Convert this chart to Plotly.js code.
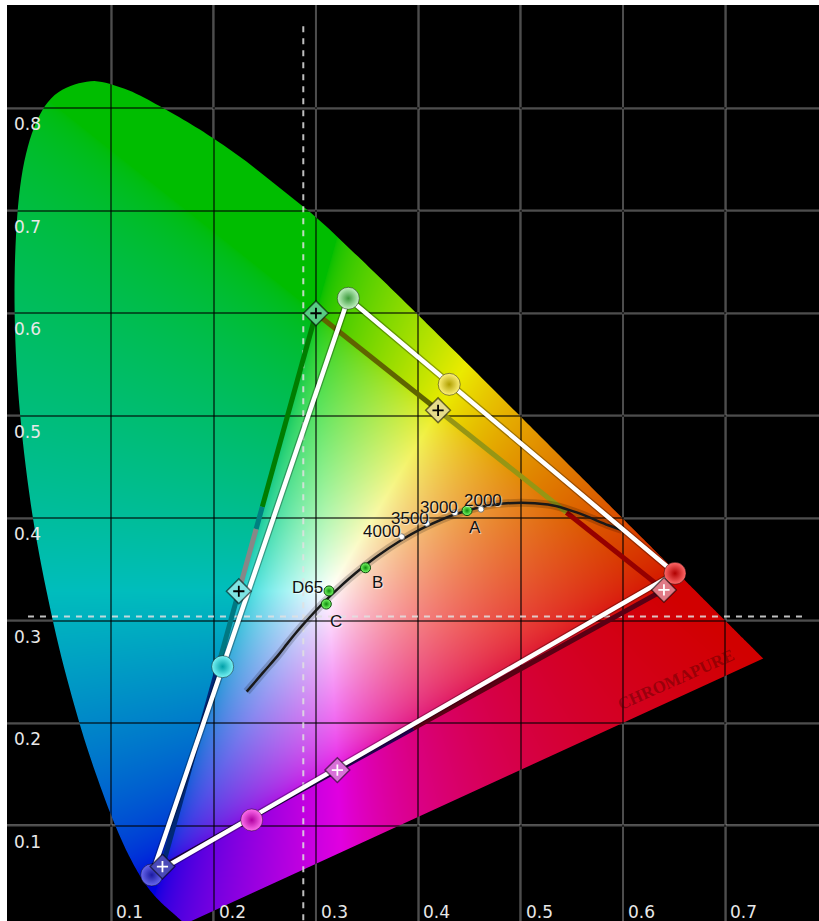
<!DOCTYPE html>
<html><head><meta charset="utf-8">
<script src="https://cdn.plot.ly/plotly-3.0.1.min.js"></script>
<style>html,body{margin:0;padding:0;background:#fff;overflow:hidden}#chart{width:819px;height:921px}</style>
</head><body><div id="chart"></div>
<script>
// ---------- data ----------
// CIE 1931 spectral locus, 380..700 nm (as drawn)
var locusX = [0.1741,0.1740,0.1738,0.1736,0.1733,0.1730,0.1726,0.1721,0.1714,0.1703,0.1689,0.1669,0.1644,0.1611,0.1566,0.1510,0.1440,0.1355,0.1241,0.1096,0.0913,0.0687,0.0440,0.0215,0.0080,0.0060,0.0150,0.0380,0.0760,0.1130,0.1510,0.1900,0.2280,0.2650,0.3016,0.3373,0.3731,0.4087,0.4441,0.4788,0.5125,0.5448,0.5752,0.6029,0.6270,0.6482,0.6658,0.6801,0.6915,0.7006,0.7079,0.7140,0.7190,0.7260,0.7300,0.7334,0.7370];
var locusY = [0.0050,0.0050,0.0049,0.0049,0.0048,0.0048,0.0048,0.0048,0.0051,0.0058,0.0069,0.0086,0.0109,0.0138,0.0177,0.0227,0.0297,0.0399,0.0578,0.0868,0.1327,0.2007,0.2950,0.4127,0.5384,0.6548,0.7480,0.8060,0.8260,0.8190,0.8000,0.7770,0.7510,0.7220,0.6923,0.6589,0.6245,0.5896,0.5547,0.5202,0.4866,0.4544,0.4242,0.3965,0.3725,0.3514,0.3340,0.3197,0.3083,0.2993,0.2920,0.2859,0.2809,0.2740,0.2700,0.2666,0.2630];
// Planckian locus (hot -> cool)
var planckX = [0.2323,0.2480,0.2637,0.2719,0.2807,0.2869,0.2952,0.3064,0.3135,0.3221,0.3325,0.3451,0.3608,0.3805,0.4053,0.4369,0.4770,0.5267,0.5546,0.5857,0.5990];
var planckY = [0.2307,0.2490,0.2671,0.2776,0.2884,0.2956,0.3048,0.3166,0.3237,0.3318,0.3411,0.3516,0.3636,0.3768,0.3907,0.4041,0.4137,0.4133,0.4056,0.3931,0.3885];
var cctLabels = ['4000','3500','3000','2000'];
var cctX = [0.3837,0.4082,0.4358,0.4612];
var cctY = [0.3819,0.3950,0.4053,0.4087];
var illumLabels = ['D65','C','B','A'];
var illumX = [0.3127,0.3101,0.3484,0.4476];
var illumY = [0.3290,0.3162,0.3516,0.4074];
var colorNames = ['Red','Yellow','Green','Cyan','Blue','Magenta'];
var targetX = [0.6400,0.4193,0.3000,0.2246,0.1500,0.3209];
var targetY = [0.3300,0.5053,0.6000,0.3287,0.0600,0.1542];
var measuredX = [0.6508,0.4302,0.3316,0.2088,0.1395,0.2372];
var measuredY = [0.3462,0.5306,0.6146,0.2551,0.0518,0.1055];
var crossX = 0.2876, crossY = 0.3041;
var xTicks = [0.1,0.2,0.3,0.4,0.5,0.6,0.7];
var xTickLabels = ['0.1','0.2','0.3','0.4','0.5','0.6','0.7'];
var yTicks = [0.1,0.2,0.3,0.4,0.5,0.6,0.7,0.8];
var yTickLabels = ['0.1','0.2','0.3','0.4','0.5','0.6','0.7','0.8'];
var watermark = 'CHROMAPURE';

// ---------- styles ----------
var xr = [-0.0019, 0.7915], yr = [0.0069, 0.9008];
var W = 812, H = 916;
var sphereFill = ['#ff6a6a','#fff27a','#c4f4c4','#7af4f6','#6a6af0','#ff70ee'];
var sphereEdge = ['#b00000','#b0a000','#3c9a3c','#00a0a8','#1a1aa0','#b000a0'];
var diaFill = ['#e07a86','#e6dc8a','#58cc84','#7ee4e4','#4a4ab8','#d870d8'];
var crossCol = ['#ffffff','#000000','#000000','#000000','#ffffff','#ffffff'];

function gam(c){ return Math.pow(c, 1/2.0); }
function xyColor(x,y){
  if (y < 0.002) y = 0.002;
  var X = x/y, Z = (1-x-y)/y;
  var r = 3.2406*X - 1.5372 - 0.4986*Z;
  var g = -0.9689*X + 1.8758 + 0.0415*Z;
  var b = 0.0557*X - 0.2040 + 1.0570*Z;
  r = Math.max(r,0); g = Math.max(g,0); b = Math.max(b,0);
  var m = Math.max(r,g,b) || 1;
  r = gam(r/m); g = gam(g/m); b = gam(b/m);
  var mx = Math.max(r,g,b), mn = Math.min(r,g,b);
  if (r >= mx) b = mx*Math.pow(b/mx, 1 + 0.8*(1 - g/mx));
  mn = Math.min(r,g,b);
  var s = mn/mx;
  var k = 0.74 + 0.26*s + 0.18*(r*g)/(mx*mx)*(1-s) + 0.14*(b/mx)*(1-g/mx)*(1-s) + 0.08*(r/mx)*(1-g/mx)*(1-b/mx);
  if (k > 1) k = 1;
  return [r*k*255, g*k*255, b*k*255];
}
function smoothPath(ctx, pts){
  ctx.moveTo(pts[0][0], pts[0][1]);
  for (var i=0;i<pts.length-1;i++){
    var p0 = pts[Math.max(i-1,0)], p1 = pts[i], p2 = pts[i+1], p3 = pts[Math.min(i+2,pts.length-1)];
    for (var s=1;s<=10;s++){
      var t = s/10, t2 = t*t, t3 = t2*t;
      var px = 0.5*((2*p1[0]) + (-p0[0]+p2[0])*t + (2*p0[0]-5*p1[0]+4*p2[0]-p3[0])*t2 + (-p0[0]+3*p1[0]-3*p2[0]+p3[0])*t3);
      var py = 0.5*((2*p1[1]) + (-p0[1]+p2[1])*t + (2*p0[1]-5*p1[1]+4*p2[1]-p3[1])*t2 + (-p0[1]+3*p1[1]-3*p2[1]+p3[1])*t3);
      ctx.lineTo(px,py);
    }
  }
  ctx.closePath();
}
function buildImage(){
  var c = document.createElement('canvas'); c.width = W; c.height = H;
  var ctx = c.getContext('2d');
  var im = ctx.createImageData(W,H), d = im.data;
  for (var j=0;j<H;j++){
    var y = yr[1] - (j+0.5)/H*(yr[1]-yr[0]);
    for (var i=0;i<W;i++){
      var x = xr[0] + (i+0.5)/W*(xr[1]-xr[0]);
      var p = (j*W+i)*4;
      if (x+y > 1.03 || x < -0.01) { d[p+3]=0; continue; }
      var col = xyColor(x,y);
      d[p]=col[0]; d[p+1]=col[1]; d[p+2]=col[2]; d[p+3]=255;
    }
  }
  ctx.putImageData(im,0,0);
  var c2 = document.createElement('canvas'); c2.width = W; c2.height = H;
  var ctx2 = c2.getContext('2d');
  var pts = [];
  for (var k=0;k<locusX.length;k++){
    pts.push([(locusX[k]-xr[0])/(xr[1]-xr[0])*W, (yr[1]-locusY[k])/(yr[1]-yr[0])*H]);
  }
  ctx2.beginPath();
  smoothPath(ctx2, pts);
  ctx2.clip();
  ctx2.drawImage(c,0,0);
  return c2.toDataURL('image/png');
}
function lerp(i,j,t){ return [targetX[i]+(targetX[j]-targetX[i])*t, targetY[i]+(targetY[j]-targetY[i])*t]; }

var traces = [];
// crosshair
traces.push({x:[crossX,crossX], y:[0.88,0.0], mode:'lines', line:{color:'rgba(225,225,225,0.85)', width:2, dash:'6px,6px'}, hoverinfo:'skip'});
traces.push({x:[0.0186,0.778], y:[crossY,crossY], mode:'lines', line:{color:'rgba(225,225,225,0.85)', width:2, dash:'6px,6px'}, hoverinfo:'skip'});
// target gamut lines (index: 0 R,1 Y,2 G,3 C,4 B,5 M)
function seg(a,b,color){ traces.push({x:[a[0],b[0]], y:[a[1],b[1]], mode:'lines', line:{color:color,width:5}, hoverinfo:'skip'}); }
var G=[targetX[2],targetY[2]], R=[targetX[0],targetY[0]], B=[targetX[4],targetY[4]];
seg(R, lerp(0,4,0.5), 'rgb(90,0,20)');
seg(lerp(0,4,0.5), B, 'rgb(35,0,80)');
seg(G, lerp(2,0,0.35), 'rgb(95,100,0)');
seg(lerp(2,0,0.35), lerp(2,0,0.72), 'rgb(150,150,20)');
seg(lerp(2,0,0.72), R, 'rgb(150,0,0)');
seg(G, lerp(2,4,0.35), 'rgb(0,125,0)');
seg(lerp(2,4,0.35), lerp(2,4,0.39), 'rgb(0,128,128)');
seg(lerp(2,4,0.39), lerp(2,4,0.5), 'rgb(135,135,135)');
seg(lerp(2,4,0.5), lerp(2,4,0.62), 'rgb(0,120,130)');
seg(lerp(2,4,0.62), B, 'rgb(0,40,120)');
// Planckian locus
traces.push({x:planckX, y:planckY, mode:'lines', line:{color:'rgba(0,0,0,0.18)', width:8, shape:'spline'}, hoverinfo:'skip'});
traces.push({x:planckX, y:planckY, mode:'lines', line:{color:'rgb(25,25,25)', width:2.5, shape:'spline'}, hoverinfo:'skip'});
// measured gamut triangle (R, G, B)
var triX = [measuredX[0],measuredX[2],measuredX[4],measuredX[0]];
var triY = [measuredY[0],measuredY[2],measuredY[4],measuredY[0]];
traces.push({x:triX, y:triY, mode:'lines', line:{color:'rgba(0,0,0,0.3)', width:7}, hoverinfo:'skip'});
traces.push({x:triX, y:triY, mode:'lines', line:{color:'#ffffff', width:4.5}, hoverinfo:'skip'});
// CCT points
traces.push({x:cctX, y:cctY, mode:'markers', marker:{size:6, color:'#ffffff', line:{color:'#777', width:1}}, hoverinfo:'skip'});
// illuminants
traces.push({x:illumX, y:illumY, mode:'markers', marker:{size:10, color:'#7dff6a', gradient:{type:'radial', color:'#0b8a0b'}, line:{color:'#0a4a0a', width:1}}, hoverinfo:'skip'});
// measured spheres
traces.push({x:measuredX, y:measuredY, mode:'markers', marker:{size:22, color:sphereFill, gradient:{type:'radial', color:sphereEdge}, line:{color:'rgba(0,0,0,0.45)', width:1}}, hoverinfo:'skip'});
// target diamonds
traces.push({x:targetX, y:targetY, mode:'markers', marker:{symbol:'diamond', size:19, color:diaFill, line:{color:'rgba(0,0,0,0.55)', width:1.5}}, hoverinfo:'skip'});
traces.push({x:targetX, y:targetY, mode:'markers', marker:{symbol:'cross-thin', size:8, color:crossCol, line:{color:crossCol, width:1.8}}, hoverinfo:'skip'});

// gridline shapes on black (below image)
var shapes = [];
xTicks.forEach(function(v){ shapes.push({type:'line', xref:'x', yref:'y', x0:v, x1:v, y0:yr[0], y1:yr[1], layer:'below', line:{color:'rgb(170,170,170)', width:2}}); });
yTicks.forEach(function(v){ shapes.push({type:'line', xref:'x', yref:'y', x0:xr[0], x1:xr[1], y0:v, y1:v, layer:'below', line:{color:'rgb(170,170,170)', width:2}}); });

var ann = [];
var tickFont = {family:'DejaVu Sans', size:17, color:'#e8e8e8'};
yTicks.forEach(function(v,i){ ann.push({text:yTickLabels[i], x:0, y:v, xref:'x', yref:'y', xanchor:'left', yanchor:'top', xshift:3, yshift:-4, showarrow:false, font:tickFont}); });
xTicks.forEach(function(v,i){ ann.push({text:xTickLabels[i], x:v, y:0, xref:'x', yref:'paper', xanchor:'left', yanchor:'bottom', xshift:3, yshift:-3, showarrow:false, font:tickFont}); });
var lblFont = {family:'Liberation Sans, Arial', size:17, color:'#111', shadow:'1px 1px 1px rgba(255,255,255,0.7)'};
var illumOff = [[-21,3],[10,-17],[12,-15],[8,-17]];
illumLabels.forEach(function(t,i){ ann.push({text:t, x:illumX[i], y:illumY[i], xref:'x', yref:'y', xshift:illumOff[i][0], yshift:illumOff[i][1], showarrow:false, font:lblFont}); });
var cctOff = [[-20,5],[-17,5],[-16,5],[2,9]];
cctLabels.forEach(function(t,i){ ann.push({text:t, x:cctX[i], y:cctY[i], xref:'x', yref:'y', xshift:cctOff[i][0], yshift:cctOff[i][1], showarrow:false, font:lblFont}); });
ann.push({text:'<b>'+watermark+'</b>', x:0.652, y:0.243, xref:'x', yref:'y', showarrow:false, textangle:-24, font:{family:'Liberation Serif', size:17, color:'rgba(80,0,0,0.45)'}});

var layout = {
  width:819, height:921,
  margin:{l:7, r:0, t:5, b:0},
  paper_bgcolor:'#ffffff', plot_bgcolor:'#000000',
  showlegend:false,
  xaxis:{range:xr, tickvals:xTicks, showticklabels:false, showgrid:true, gridcolor:'rgba(0,0,0,0.55)', gridwidth:2, zeroline:false, showline:false, fixedrange:true},
  yaxis:{range:yr, tickvals:yTicks, showticklabels:false, showgrid:true, gridcolor:'rgba(0,0,0,0.55)', gridwidth:2, zeroline:false, showline:false, fixedrange:true},
  images:[{source:buildImage(), xref:'x', yref:'y', x:xr[0], y:yr[1], sizex:xr[1]-xr[0], sizey:yr[1]-yr[0], xanchor:'left', yanchor:'top', sizing:'stretch', layer:'below'}],
  shapes:shapes,
  annotations:ann
};
Plotly.newPlot('chart', traces, layout, {displayModeBar:false, staticPlot:true});
</script></body></html>
